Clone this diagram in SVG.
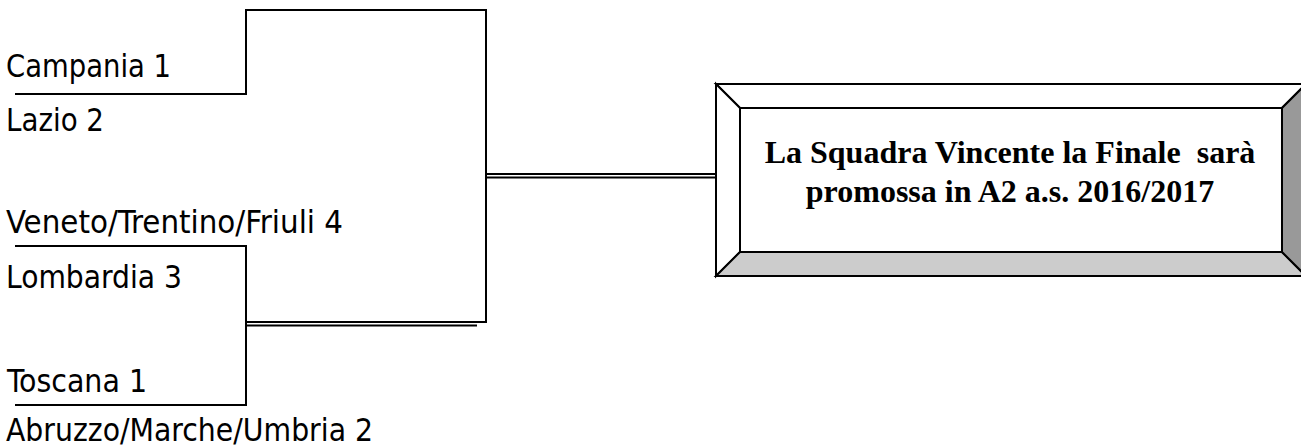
<svg xmlns="http://www.w3.org/2000/svg" width="1301" height="447" viewBox="0 0 1301 447">
<style>
.lbl{font-family:"DejaVu Sans Condensed","DejaVu Sans",sans-serif;font-size:31.5px;fill:#000}
.ln{stroke:#000;stroke-width:2;fill:none}
.bv{stroke:#000;stroke-width:2;stroke-linejoin:miter}
.ttl{font-family:"Liberation Serif","Times New Roman",serif;font-size:32px;font-weight:bold;fill:#000;text-anchor:middle}
</style>
<rect width="1301" height="447" fill="#fff"/>
<g id="teams">
<text class="lbl" x="6" y="77" textLength="165" lengthAdjust="spacingAndGlyphs">Campania 1</text>
<text class="lbl" x="6" y="131" textLength="98" lengthAdjust="spacingAndGlyphs">Lazio 2</text>
<text class="lbl" x="6" y="233" textLength="337" lengthAdjust="spacingAndGlyphs">Veneto/Trentino/Friuli 4</text>
<text class="lbl" x="6" y="288" textLength="176" lengthAdjust="spacingAndGlyphs">Lombardia 3</text>
<text class="lbl" x="7" y="392" textLength="140" lengthAdjust="spacingAndGlyphs">Toscana 1</text>
<text class="lbl" x="6" y="441" textLength="367" lengthAdjust="spacingAndGlyphs">Abruzzo/Marche/Umbria 2</text>
</g>
<g id="connectors">
<polyline class="ln" points="15,94 246,94 246,10 486,10 486,322 246,322"/>
<line class="ln" x1="246" y1="325.5" x2="477" y2="325.5"/>
<polyline class="ln" points="15,246 246,246 246,405 15,405"/>
<line class="ln" x1="486" y1="174" x2="716" y2="174"/>
<line class="ln" x1="486" y1="177.5" x2="716" y2="177.5"/>
</g>
<g id="final">
<polygon class="bv" fill="#fff" points="716,84 1306,84 1282,108 740,108"/>
<polygon class="bv" fill="#fff" points="716,84 740,108 740,252 716,276"/>
<polygon class="bv" fill="#cccccc" points="716,276 740,252 1282,252 1306,276"/>
<polygon class="bv" fill="#999999" points="1306,84 1282,108 1282,252 1306,276"/>
<rect class="bv" fill="#fff" x="740" y="108" width="542" height="144"/>
<text class="ttl" x="1010" y="163" xml:space="preserve">La Squadra Vincente la Finale  sarà</text>
<text class="ttl" x="1010" y="202">promossa in A2 a.s. 2016/2017</text>
</g>
</svg>
